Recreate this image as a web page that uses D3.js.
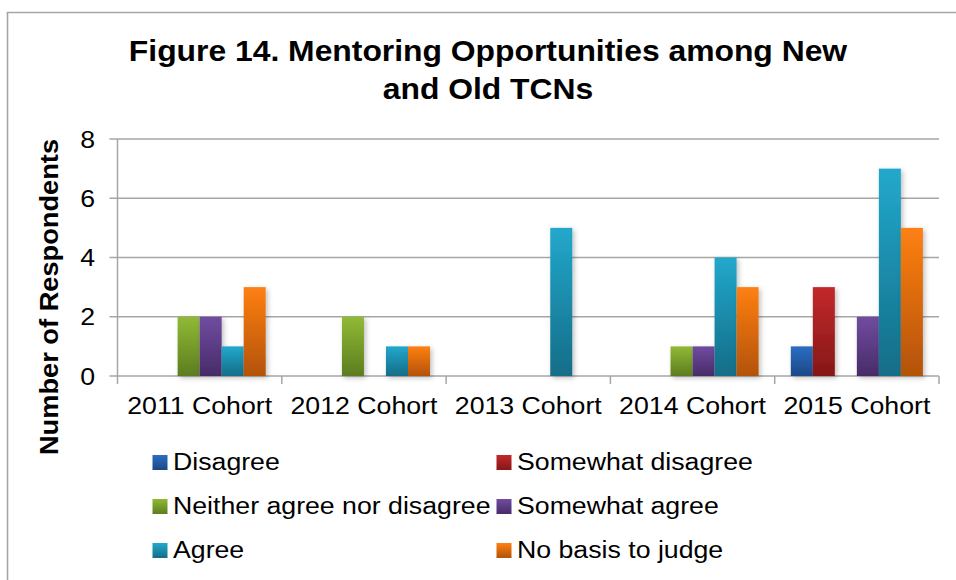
<!DOCTYPE html>
<html>
<head>
<meta charset="utf-8">
<script src="https://cdn.jsdelivr.net/npm/d3@7"></script>
<style>
  body { margin: 0; background: #fff; }
  svg { display: block; }
  text { font-family: "Liberation Sans", Arial, sans-serif; fill: #000; }
</style>
</head>
<body>
<svg id="chart" width="956" height="580"></svg>
<script>
// ========= Data =========
const categories = ['2011 Cohort', '2012 Cohort', '2013 Cohort', '2014 Cohort', '2015 Cohort'];
const seriesNames = ['Disagree', 'Somewhat disagree', 'Neither agree nor disagree', 'Somewhat agree', 'Agree', 'No basis to judge'];
const disagree = [0, 0, 0, 0, 1];
const somewhatDisagree = [0, 0, 0, 0, 3];
const neitherAgree = [2, 2, 0, 1, 0];
const somewhatAgree = [2, 0, 0, 1, 2];
const agree = [1, 1, 5, 4, 7];
const noBasis = [3, 1, 0, 3, 5];
const yTicks = [0, 2, 4, 6, 8];

const seriesValues = [disagree, somewhatDisagree, neitherAgree, somewhatAgree, agree, noBasis];
// top / bottom of the bar gradient
const colors = [
  ['#2b6ec2', '#1c4786'],
  ['#c2292b', '#861717'],
  ['#91ba35', '#5c7c1f'],
  ['#704ca0', '#482b68'],
  ['#22a8cc', '#146d87'],
  ['#fe8013', '#b35206']
];

const svg = d3.select('#chart');

// text helper: Excel text runs a bit wider than Arial
function label(sel, x, y, rot, k) {
  return sel.attr('transform', `translate(${x},${y}) rotate(${rot || 0}) scale(${k || 1.09},1)`);
}

// ========= Defs =========
const defs = svg.append('defs');
colors.forEach((c, i) => {
  const g = defs.append('linearGradient')
    .attr('id', 'grad' + i)
    .attr('x1', 0).attr('y1', 0).attr('x2', 0).attr('y2', 1);
  g.append('stop').attr('offset', '0%').attr('stop-color', c[0]);
  g.append('stop').attr('offset', '100%').attr('stop-color', c[1]);
});
defs.append('filter')
  .attr('id', 'shadow')
  .attr('x', '-30%').attr('y', '-10%').attr('width', '170%').attr('height', '130%')
  .append('feDropShadow')
  .attr('dx', 2).attr('dy', 2).attr('stdDeviation', 2.5)
  .attr('flood-color', '#000').attr('flood-opacity', 0.25);

// ========= Frame =========
svg.append('path')
  .attr('d', 'M7.5,580 V12.5 H956')
  .attr('fill', 'none')
  .attr('stroke', '#a6a6a6')
  .attr('stroke-width', 1.6);

// ========= Title =========
const title = svg.append('g')
  .style('font-weight', 'bold')
  .style('font-size', '29.5px')
  .attr('text-anchor', 'middle');
label(title.append('text').text('Figure 14. Mentoring Opportunities among New'), 488, 61, 0, 1.08);
label(title.append('text').text('and Old TCNs'), 488, 99, 0, 1.08);

// ========= Scales =========
const plot = { left: 117.5, right: 939, top: 139, bottom: 376 };

const x0 = d3.scaleBand()
  .domain(categories)
  .range([plot.left, plot.right])
  .padding(0);

const bw = x0.bandwidth();
const x1 = d3.scaleBand()
  .domain(d3.range(seriesNames.length))
  .range([bw * 0.098, bw * 0.902])
  .padding(0);

const y = d3.scaleLinear()
  .domain([0, 8])
  .range([plot.bottom, plot.top]);

// ========= Grid + axes =========
svg.append('g')
  .selectAll('line')
  .data(yTicks)
  .enter()
  .append('line')
  .attr('x1', plot.left - 8)
  .attr('x2', plot.right)
  .attr('y1', d => y(d))
  .attr('y2', d => y(d))
  .attr('stroke', '#a6a6a6')
  .attr('stroke-width', 1.5);

svg.append('line')
  .attr('x1', plot.left).attr('x2', plot.left)
  .attr('y1', plot.top).attr('y2', plot.bottom + 8)
  .attr('stroke', '#a6a6a6')
  .attr('stroke-width', 1.5);

const catEdges = categories.map(c => x0(c) + bw);
svg.append('g')
  .selectAll('line')
  .data(catEdges)
  .enter()
  .append('line')
  .attr('x1', d => d).attr('x2', d => d)
  .attr('y1', plot.bottom).attr('y2', plot.bottom + 8)
  .attr('stroke', '#a6a6a6')
  .attr('stroke-width', 1.5);

// y tick labels
svg.append('g')
  .style('font-size', '24.5px')
  .attr('text-anchor', 'end')
  .selectAll('text')
  .data(yTicks)
  .enter()
  .append('text')
  .attr('dy', '0.35em')
  .text(d => d)
  .each(function(d) { label(d3.select(this), 95, y(d)); });

// x labels
svg.append('g')
  .style('font-size', '24.5px')
  .attr('text-anchor', 'middle')
  .selectAll('text')
  .data(categories)
  .enter()
  .append('text')
  .text(d => d)
  .each(function(d) { label(d3.select(this), x0(d) + bw / 2, 414); });

// y title
label(svg.append('text')
  .style('font-size', '25px')
  .style('font-weight', 'bold')
  .attr('text-anchor', 'middle')
  .text('Number of Respondents'), 58, 297, -90);

// ========= Bars =========
const barData = [];
categories.forEach((c, ci) => {
  seriesValues.forEach((vals, si) => {
    if (vals[ci] > 0) barData.push({ cat: c, s: si, value: vals[ci] });
  });
});

svg.append('g')
  .selectAll('rect')
  .data(barData)
  .enter()
  .append('rect')
  .attr('x', d => x0(d.cat) + x1(d.s))
  .attr('width', x1.bandwidth())
  .attr('y', d => y(d.value))
  .attr('height', d => y(0) - y(d.value))
  .attr('fill', d => `url(#grad${d.s})`)
  .attr('filter', 'url(#shadow)');

// ========= Legend =========
const legendCols = [152.5, 496.5];
const legendRows = [470, 514, 558];
const legend = svg.append('g')
  .style('font-size', '24.5px')
  .selectAll('g')
  .data(seriesNames)
  .enter()
  .append('g')
  .attr('transform', (d, i) => `translate(${legendCols[i % 2]},${legendRows[Math.floor(i / 2)]})`);

legend.append('rect')
  .attr('x', 0).attr('y', -15)
  .attr('width', 15).attr('height', 15)
  .attr('fill', (d, i) => `url(#grad${i})`);

legend.append('text')
  .text(d => d)
  .each(function() { label(d3.select(this), 20.5, 0); });
</script>
</body>
</html>
